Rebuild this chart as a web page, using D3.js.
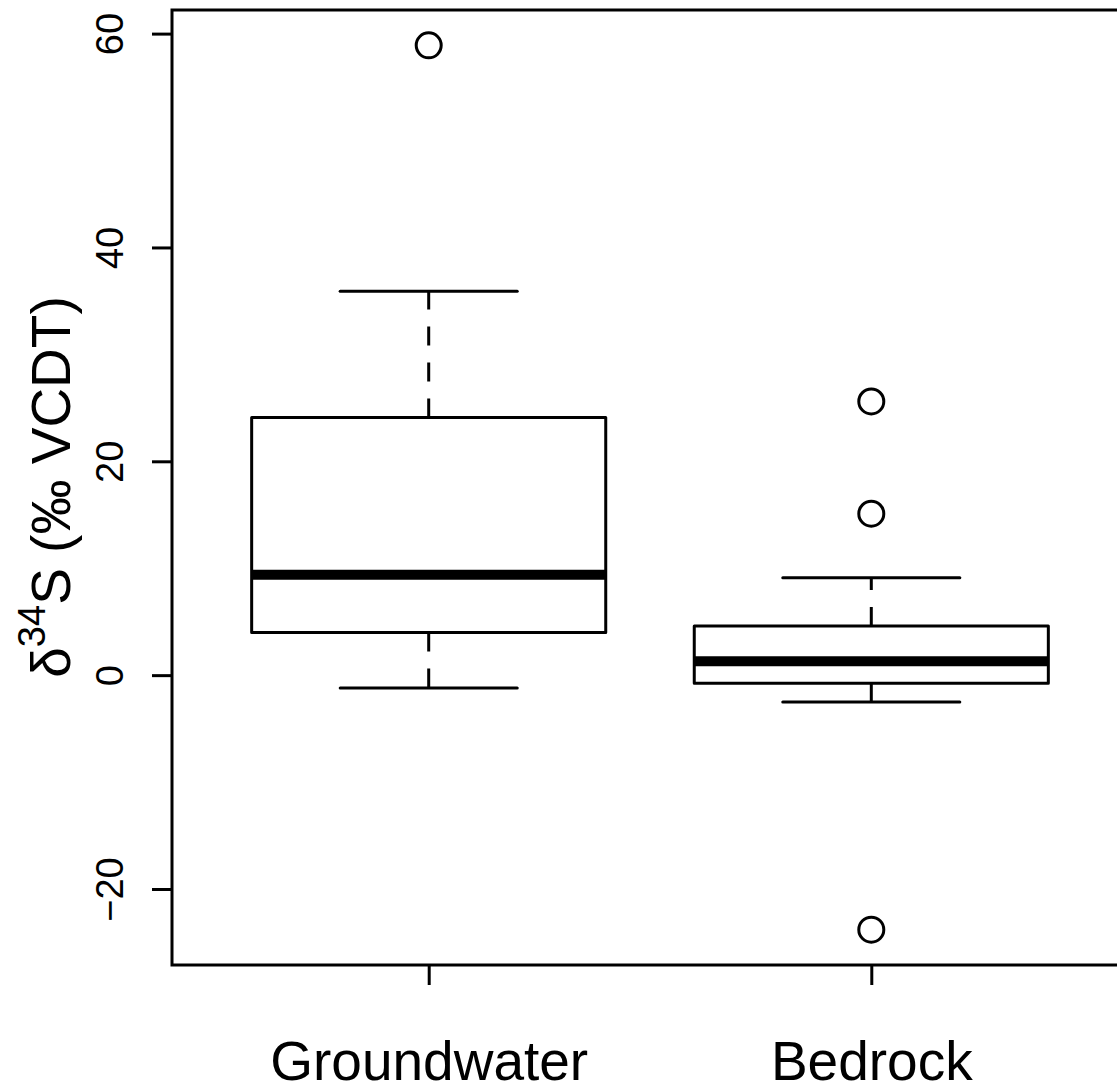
<!DOCTYPE html>
<html>
<head>
<meta charset="utf-8">
<script src="https://cdn.jsdelivr.net/npm/d3@7"></script>
<style>
  body { margin: 0; background: #fff; }
  text { font-family: "Liberation Sans", Arial, Helvetica, sans-serif; fill: #000; }
</style>
</head>
<body>
<script>
// box stats (per group)
const categories = ['Groundwater', 'Bedrock'];
const lowerWhisker = [-1.2, -2.5];
const lowerHinge = [4.0, -0.75];
const medians = [9.4, 1.3];
const upperHinge = [24.1, 4.6];
const upperWhisker = [35.9, 9.1];
const outliers = [[58.9], [25.6, 15.1, -23.8]];
const yTicks = [-20, 0, 20, 40, 60];

const width = 1117;
const height = 1087;
const plotLeft = 172, plotTop = 10, plotBottom = 965;

const svg = d3.select('body').append('svg')
    .attr('width', width)
    .attr('height', height);

// R style 4% padding on both axes
const xDomain = [0.5 - 0.08, categories.length + 0.5 + 0.08];
const x = d3.scaleLinear().domain(xDomain).range([plotLeft, plotLeft + 956]);

const allVals = lowerWhisker.concat(upperWhisker, outliers.flat());
const yLo = d3.min(allVals), yHi = d3.max(allVals);
const pad = (yHi - yLo) * 0.04;
const y = d3.scaleLinear().domain([yLo - pad, yHi + pad]).range([plotBottom, plotTop]);

const lw = 3;

// y axis, labels turned like R's default las=0
const yAxis = svg.append('g')
    .attr('transform', `translate(${plotLeft},0)`)
    .call(d3.axisLeft(y).tickValues(yTicks).tickSize(20).tickSizeOuter(0));
yAxis.select('.domain').remove();
yAxis.selectAll('line').attr('stroke', '#000').attr('stroke-width', lw);
yAxis.selectAll('text')
    .attr('x', null).attr('dy', null)
    .attr('text-anchor', 'middle')
    .attr('font-size', 38)
    .attr('transform', 'translate(-49,0) rotate(-90)');

// x axis with group names
const xAxis = svg.append('g')
    .attr('transform', `translate(0,${plotBottom})`)
    .call(d3.axisBottom(x).tickValues(d3.range(1, categories.length + 1))
        .tickFormat(i => categories[i - 1]).tickSize(20).tickSizeOuter(0));
xAxis.select('.domain').remove();
xAxis.selectAll('line').attr('stroke', '#000').attr('stroke-width', lw);
xAxis.selectAll('text')
    .attr('y', 115).attr('dy', null)
    .attr('font-size', 55);

// plot frame (right side falls off the canvas)
svg.append('rect')
    .attr('x', plotLeft).attr('y', plotTop)
    .attr('width', x.range()[1] - plotLeft).attr('height', plotBottom - plotTop)
    .attr('fill', 'none').attr('stroke', '#000').attr('stroke-width', lw);

const groups = categories.map((c, i) => ({
    pos: i + 1,
    lo: lowerWhisker[i], q1: lowerHinge[i], med: medians[i],
    q3: upperHinge[i], hi: upperWhisker[i], out: outliers[i]
}));

const g = svg.selectAll('.grp').data(groups).enter().append('g').attr('class', 'grp');

// dashed whiskers, drawn from the box outwards
g.append('line')
    .attr('x1', d => x(d.pos)).attr('x2', d => x(d.pos))
    .attr('y1', d => y(d.q3)).attr('y2', d => y(d.hi))
    .attr('stroke', '#000').attr('stroke-width', lw).attr('stroke-dasharray', '19,17');
g.append('line')
    .attr('x1', d => x(d.pos)).attr('x2', d => x(d.pos))
    .attr('y1', d => y(d.q1)).attr('y2', d => y(d.lo))
    .attr('stroke', '#000').attr('stroke-width', lw).attr('stroke-dasharray', '19,17');

// whisker caps
['hi', 'lo'].forEach(k => {
    g.append('line')
        .attr('x1', d => x(d.pos - 0.2)).attr('x2', d => x(d.pos + 0.2))
        .attr('y1', d => y(d[k])).attr('y2', d => y(d[k]))
        .attr('stroke', '#000').attr('stroke-width', lw).attr('stroke-linecap', 'round');
});

// boxes
g.append('rect')
    .attr('x', d => x(d.pos - 0.4))
    .attr('width', d => x(d.pos + 0.4) - x(d.pos - 0.4))
    .attr('y', d => y(d.q3))
    .attr('height', d => y(d.q1) - y(d.q3))
    .attr('fill', '#fff').attr('stroke', '#000').attr('stroke-width', lw)
    .attr('stroke-linejoin', 'round');

// medians
g.append('line')
    .attr('x1', d => x(d.pos - 0.4)).attr('x2', d => x(d.pos + 0.4))
    .attr('y1', d => y(d.med)).attr('y2', d => y(d.med))
    .attr('stroke', '#000').attr('stroke-width', 10);

// outliers
g.selectAll('circle').data(d => d.out.map(v => ({ pos: d.pos, v: v }))).enter()
    .append('circle')
    .attr('cx', d => x(d.pos)).attr('cy', d => y(d.v))
    .attr('r', 12.5)
    .attr('fill', 'none').attr('stroke', '#000').attr('stroke-width', lw);

// y title with superscript
const title = svg.append('text')
    .attr('transform', 'translate(70,487) rotate(-90)')
    .attr('text-anchor', 'middle')
    .attr('font-size', 55);
title.append('tspan').text('δ');
title.append('tspan').attr('font-size', 38).attr('dy', -25).text('34');
title.append('tspan').attr('dy', 25).text('S (‰ VCDT)');
</script>
</body>
</html>
